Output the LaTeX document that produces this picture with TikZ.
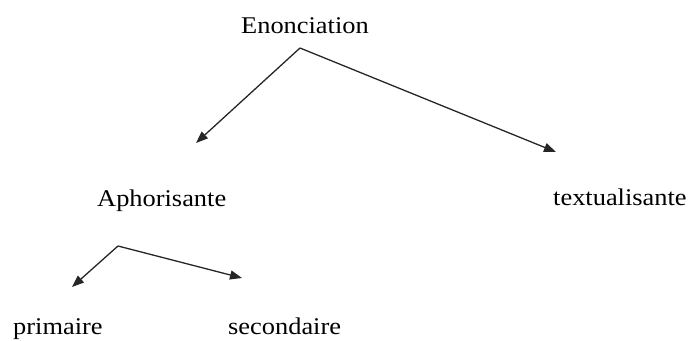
\documentclass[tikz,border=0pt]{standalone}
\usepackage{fontspec}
\setmainfont{Liberation Serif}[FakeStretch=1.1]
\usetikzlibrary{arrows.meta}
\begin{document}
\begin{tikzpicture}[x=1pt,y=-1pt,
  lbl/.style={anchor=base west,inner sep=0pt,font=\fontsize{24}{28}\selectfont},
  arr/.style={-{Triangle[length=12pt,width=9pt]},line width=1.3pt,draw=black!85}]
\useasboundingbox (0,0) rectangle (688,340);
\node[lbl] (enon) at (241,33) {Enonciation};
\node[lbl] (aph) at (97,206) {Aphorisante};
\node[lbl] (text) at (553,205) {textualisante};
\node[lbl] (prim) at (13,334) {primaire};
\node[lbl] (sec) at (228,334) {secondaire};
\coordinate (e0) at (300,48);
\coordinate (e1) at (196,143);
\coordinate (e2) at (556,152);
\coordinate (a0) at (118,246);
\coordinate (a1) at (72,287);
\coordinate (a2) at (242,278);
\draw[arr] (e0) -- (e1);
\draw[arr] (e0) -- (e2);
\draw[arr] (a0) -- (a1);
\draw[arr] (a0) -- (a2);
\end{tikzpicture}
\end{document}
